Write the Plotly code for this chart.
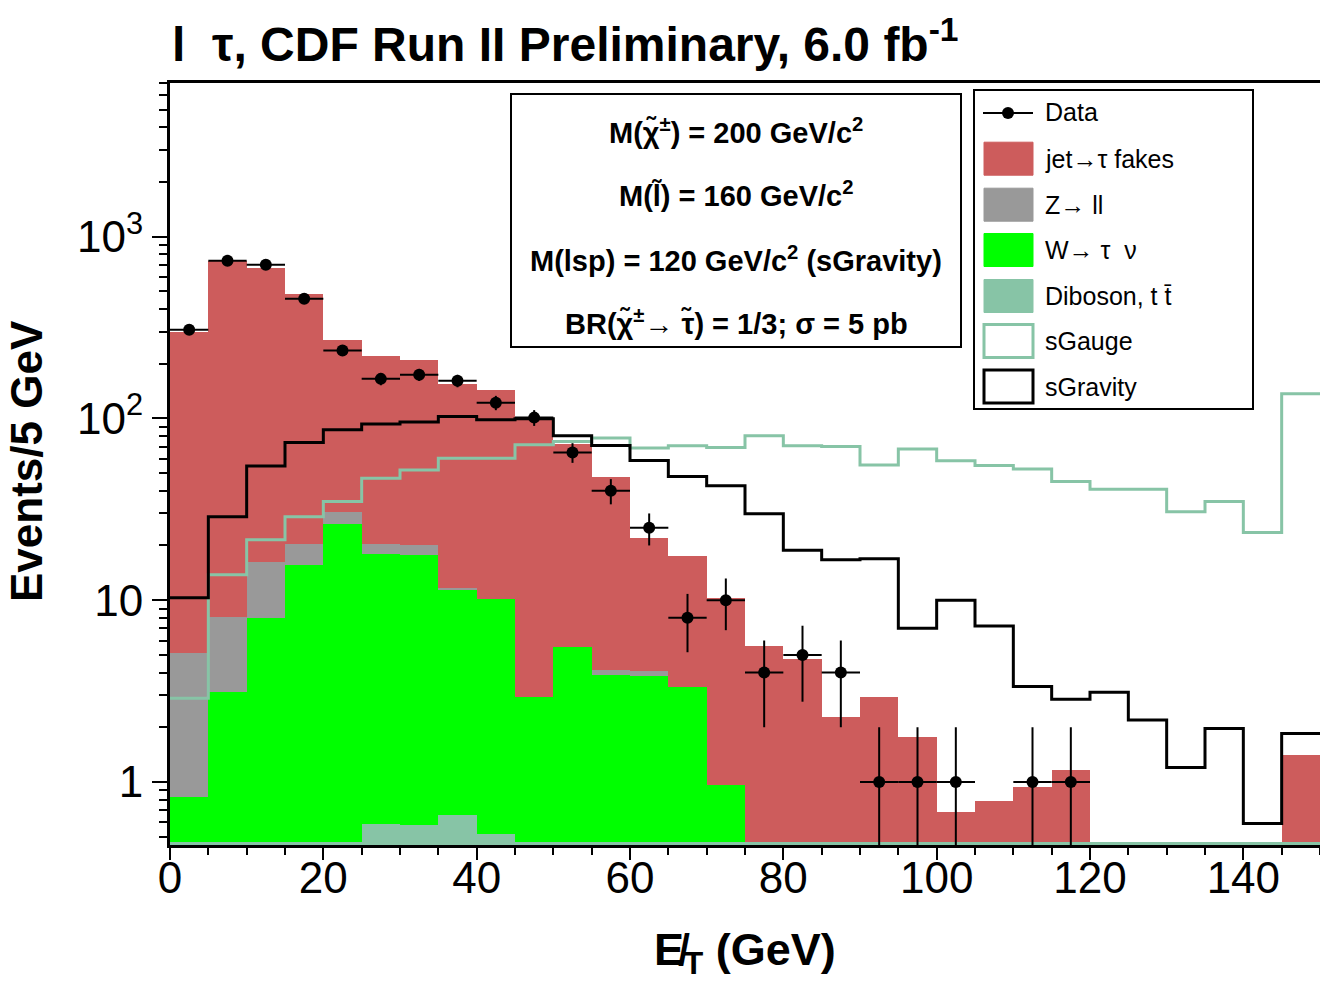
import math
import plotly.graph_objects as go

# ---------------- data (5 GeV bins, 0-150 GeV) ----------------
bin_edges = [0, 5, 10, 15, 20, 25, 30, 35, 40, 45, 50, 55, 60, 65, 70, 75,
             80, 85, 90, 95, 100, 105, 110, 115, 120, 125, 130, 135, 140, 145, 150]
bin_centers = [(a + b) / 2 for a, b in zip(bin_edges[:-1], bin_edges[1:])]

data_counts = [307, 737, 700, 455, 236, 165, 174, 161, 122, 101, 65, 40, 25, 8, 10,
               4, 5, 4, 1, 1, 1, 0, 1, 1, 0, 0, 0, 0, 0, 0]

diboson = [0.47, 0.47, 0.47, 0.47, 0.47, 0.59, 0.58, 0.66, 0.52, 0.47, 0.47, 0.47, 0.47, 0.47, 0.47,
           0.47, 0.47, 0.47, 0.47, 0.47, 0.47, 0.47, 0.47, 0.47, 0.47, 0.47, 0.47, 0.47, 0.47, 0.47]
w_taunu = [0.36, 2.67, 7.49, 15.1, 25.8, 17.4, 17.1, 10.8, 9.58, 2.48, 5.08, 3.41, 3.38, 2.88, 0.49,
           0, 0, 0, 0, 0, 0, 0, 0, 0, 0, 0, 0, 0, 0, 0]
z_ll = [4.28, 4.99, 8.34, 4.8, 4.3, 2.4, 2.4, 0.2, 0, 0, 0, 0.25, 0.25, 0, 0,
        0, 0, 0, 0, 0, 0, 0, 0, 0, 0, 0, 0, 0, 0, 0]
jet_fakes = [295, 722, 656, 463, 240, 201, 190, 143, 134, 97, 66.5, 43.4, 17.9, 14.2, 9.3,
             5.1, 4.3, 1.8, 2.46, 1.29, 0.21, 0.32, 0.47, 0.70, 0, 0, 0, 0, 0, 0.93]

sgauge = [2.89, 13.8, 21.5, 28.8, 34.9, 46.9, 52.0, 60.4, 60.4, 71.6, 74.6, 78.0, 68.7, 70.7, 69.2,
          80.2, 70.7, 70.0, 55.5, 67.8, 58.4, 55.1, 52.6, 45.0, 40.8, 40.8, 30.7, 34.9, 23.6, 136.6]
sgravity = [10.3, 28.8, 54.8, 73.7, 86.5, 93.3, 95.4, 102.5, 98.2, 99.5, 80.2, 71.0, 58.7, 47.9, 42.6,
            29.9, 18.8, 16.7, 16.9, 7.0, 10.0, 7.22, 3.35, 2.85, 3.12, 2.19, 1.2, 1.97, 0.59, 1.85]

y_tick_vals = [1, 10, 100, 1000]
y_tick_text = ["1", "10", "10<sup>2</sup>", "10<sup>3</sup>"]
x_tick_vals = [0, 20, 40, 60, 80, 100, 120, 140]

# ---------------- styling ----------------
C_RED = "#CD5C5C"
C_GRAY = "#999999"
C_GREEN = "#00FF00"
C_TEAL = "#87C4A6"
FONT = "Liberation Sans, Arial, Helvetica, sans-serif"

fig = go.Figure()

for name, vals, col in [("Diboson, t t̄", diboson, C_TEAL),
                        ("W→ τ ν", w_taunu, C_GREEN),
                        ("Z→ ll", z_ll, C_GRAY),
                        ("jet→τ fakes", jet_fakes, C_RED)]:
    fig.add_trace(go.Bar(x=bin_centers, y=vals, width=5, name=name,
                         marker=dict(color=col, line=dict(width=0)),
                         showlegend=False, hoverinfo="skip"))

# step histograms
fig.add_trace(go.Scatter(x=bin_edges, y=sgauge + [sgauge[-1]], mode="lines",
                         line=dict(color=C_TEAL, width=3, shape="hv"),
                         name="sGauge", showlegend=False, hoverinfo="skip"))
fig.add_trace(go.Scatter(x=bin_edges, y=sgravity + [sgravity[-1]], mode="lines",
                         line=dict(color="black", width=3, shape="hv"),
                         name="sGravity", showlegend=False, hoverinfo="skip"))

# data points
dx = [c for c, n in zip(bin_centers, data_counts) if n > 0]
dy = [n for n in data_counts if n > 0]
derr = [math.sqrt(n) for n in dy]
fig.add_trace(go.Scatter(x=dx, y=dy, mode="markers", name="Data",
                         marker=dict(color="black", size=12),
                         error_y=dict(type="data", array=derr, color="black", thickness=2, width=0),
                         error_x=dict(type="constant", value=2.5, color="black", thickness=2, width=0),
                         showlegend=False, hoverinfo="skip"))

# ---------------- layout ----------------
L, R, T, B = 170, 0, 83, 139
W, H = 1320, 984
PW, PH = W - L - R, H - T - B


def px(xp):
    return (xp - L) / PW


def py(yp):
    return (H - B - yp) / PH


shapes = []
annotations = []

# info box
shapes.append(dict(type="rect", xref="paper", yref="paper",
                   x0=px(511), x1=px(961), y0=py(347), y1=py(94),
                   line=dict(color="black", width=2), fillcolor="white", layer="above"))
info_lines = ["M(χ̃<sup>±</sup>) = 200 GeV/c<sup>2</sup>",
              "M(l̃) = 160 GeV/c<sup>2</sup>",
              "M(lsp) = 120 GeV/c<sup>2</sup> (sGravity)",
              "BR(χ̃<sup>±</sup>→ τ̃) = 1/3; σ = 5 pb"]
for txt, ycen in zip(info_lines, [131, 194, 259, 322]):
    annotations.append(dict(text=txt, xref="paper", yref="paper", x=px(736), y=py(ycen),
                            xanchor="center", yanchor="middle", showarrow=False,
                            font=dict(family=FONT, size=29, color="black", weight="bold")))

# legend box
shapes.append(dict(type="rect", xref="paper", yref="paper",
                   x0=px(974), x1=px(1253), y0=py(409), y1=py(90),
                   line=dict(color="black", width=2), fillcolor="white", layer="above"))
# Data entry
shapes.append(dict(type="line", xref="paper", yref="paper", x0=px(983), x1=px(1033),
                   y0=py(113), y1=py(113), line=dict(color="black", width=2), layer="above"))
shapes.append(dict(type="circle", xref="paper", yref="paper", xsizemode="pixel", ysizemode="pixel",
                   xanchor=px(1008), yanchor=py(113), x0=-6, x1=6, y0=-6, y1=6,
                   fillcolor="black", line=dict(color="black", width=0), layer="above"))
annotations.append(dict(text="Data", xref="paper", yref="paper", x=px(1043), y=py(112),
                        xanchor="left", yanchor="middle", showarrow=False,
                        font=dict(family=FONT, size=25, color="black")))
leg_items = [("jet→τ fakes", C_RED, C_RED, 1, 158.7),
             ("Z→ ll", C_GRAY, C_GRAY, 1, 204.7),
             ("W→ τ  ν", C_GREEN, C_GREEN, 1, 250),
             ("Diboson, t t̄", C_TEAL, C_TEAL, 1, 296),
             ("sGauge", "white", C_TEAL, 3, 341),
             ("sGravity", "white", "black", 3, 386.5)]
for txt, fc, lc, lw, yc in leg_items:
    shapes.append(dict(type="rect", xref="paper", yref="paper",
                       x0=px(984), x1=px(1033), y0=py(yc + 16.5), y1=py(yc - 16.5),
                       fillcolor=fc, line=dict(color=lc, width=lw), layer="above"))
    annotations.append(dict(text=txt.replace("  ", "\u00a0\u00a0"), xref="paper", yref="paper",
                            x=px(1043), y=py(yc), xanchor="left", yanchor="middle", showarrow=False,
                            font=dict(family=FONT, size=25, color="black")))

# axis titles
annotations.append(dict(text="Events/5 GeV", xref="paper", yref="paper", x=px(26), y=py(461),
                        textangle=-90, xanchor="center", yanchor="middle", showarrow=False,
                        font=dict(family=FONT, size=44, color="black", weight="bold")))
annotations.append(dict(text="E\u0338<sub>T</sub> (GeV)", xref="paper", yref="paper", x=px(745), y=py(952),
                        xanchor="center", yanchor="middle", showarrow=False,
                        font=dict(family=FONT, size=45, color="black", weight="bold")))

axis_common = dict(showline=True, linecolor="black", linewidth=3, ticks="outside",
                   tickcolor="black", tickwidth=2, showgrid=False, zeroline=False,
                   tickfont=dict(family=FONT, size=44, color="black"))

fig.update_layout(
    width=W, height=H,
    margin=dict(l=L, r=R, t=T, b=B, pad=0),
    paper_bgcolor="white", plot_bgcolor="white",
    barmode="stack", bargap=0, bargroupgap=0,
    showlegend=False,
    title=dict(text="l\u00a0\u00a0τ, CDF Run II Preliminary, 6.0 fb<sup>-1</sup>",
               xref="container", yref="container", x=172 / W, y=1 - 44 / H,
               xanchor="left", yanchor="middle",
               font=dict(family=FONT, size=48, color="black", weight="bold")),
    xaxis=dict(range=[0, 150], tickvals=x_tick_vals, ticklen=12, mirror=True,
               ticklabelstandoff=-20,
               minor=dict(dtick=5, tick0=0, ticklen=7, tickwidth=2, tickcolor="black", ticks="outside"),
               **axis_common),
    yaxis=dict(type="log", range=[math.log10(0.45), math.log10(7000)],
               tickvals=y_tick_vals, ticktext=y_tick_text, ticklen=15,
               minor=dict(tickvals=[0.5, 0.6, 0.7, 0.8, 0.9, 2, 3, 4, 5, 6, 7, 8, 9,
                                    20, 30, 40, 50, 60, 70, 80, 90,
                                    200, 300, 400, 500, 600, 700, 800, 900,
                                    2000, 3000, 4000, 5000, 6000, 7000],
                          ticklen=8, tickwidth=2, tickcolor="black", ticks="outside"),
               **axis_common),
    shapes=shapes,
    annotations=annotations,
)

fig.write_html("out.html", config={"displayModeBar": False},
               post_script="document.body.style.margin='0';")
